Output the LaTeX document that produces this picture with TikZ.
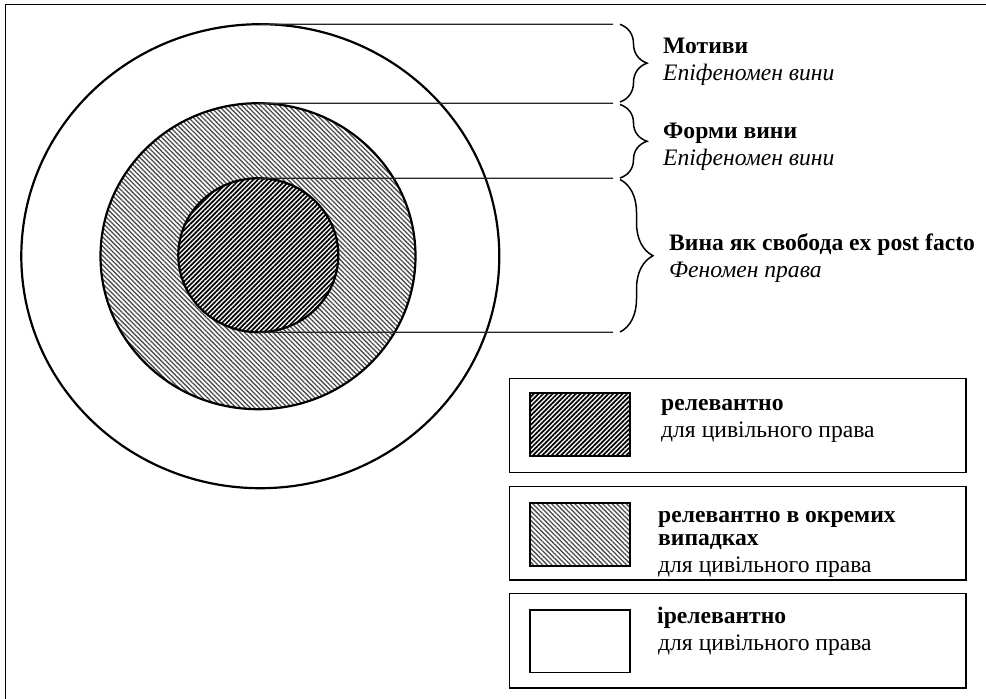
\documentclass[tikz,border=0pt]{standalone}
\usepackage{fontspec}
\setmainfont{Liberation Serif}
\usetikzlibrary{shapes.geometric,patterns.meta,decorations.pathreplacing}
\begin{document}
\begin{tikzpicture}[x=1pt,y=-1pt,
  ring/.style={ellipse, draw, line width=2.2pt, inner sep=0pt, outer sep=0pt},
  darkhatch/.style={pattern={Lines[angle=45, distance=3.3pt, line width=1.7pt]}},
  lighthatch/.style={pattern={Lines[angle=-45, distance=3.3pt, line width=1.3pt]}, pattern color=black!70},
  guide/.style={line width=1.3pt, draw=black!85},
  bracestyle/.style={decorate, line width=1.5pt},
  txt/.style={inner sep=0pt, anchor=base west, font=\fontsize{23.6}{28}\selectfont},
  legbox/.style={rectangle, draw, line width=1.6pt, inner sep=0pt},
  swatch/.style={rectangle, draw, line width=1.6pt, inner sep=0pt, minimum width=100pt, minimum height=63pt}
]
\useasboundingbox (0,0) rectangle (986,699);
\draw[line width=1.4pt] (5.5,699) -- (5.5,4.5) -- (986,4.5);

% circles
\node[ring, minimum width=478pt, minimum height=464pt] (outer) at (260.3,256.2) {};
\node[ring, minimum width=315pt, minimum height=306pt, lighthatch] (middle) at (258,256.2) {};
\node[ring, minimum width=160pt, minimum height=154pt, preaction={fill=white}, darkhatch] (inner) at (258.3,255.2) {};

% guide lines
\coordinate (g1) at (613,24.3);
\coordinate (g2) at (613,103.3);
\coordinate (g3) at (613,178.3);
\coordinate (g4) at (613,332.3);
\draw[guide] (outer.north) -- (g1);
\draw[guide] (middle.north) -- (g2);
\draw[guide] (inner.north) -- (g3);
\draw[guide] (inner.south) -- (g4);

% braces
\coordinate (b1t) at (620,24.3);
\coordinate (b1b) at (620,102);
\coordinate (b2t) at (620,104.5);
\coordinate (b2b) at (620,178);
\coordinate (b3t) at (620,179.5);
\coordinate (b3b) at (620,332);
\draw[bracestyle, decoration={brace, amplitude=27pt}] (b1t) -- (b1b);
\draw[bracestyle, decoration={brace, amplitude=27pt}] (b2t) -- (b2b);
\draw[bracestyle, decoration={brace, amplitude=33pt}] (b3t) -- (b3b);

% labels
\node[txt] (t1a) at (663,53) {\bfseries Мотиви};
\node[txt] (t1b) at (663,80) {\itshape Епіфеномен вини};
\node[txt] (t2a) at (663,138) {\bfseries Форми вини};
\node[txt] (t2b) at (663,165) {\itshape Епіфеномен вини};
\node[txt] (t3a) at (669,250) {\bfseries Вина як свобода ex post facto};
\node[txt] (t3b) at (669,277) {\itshape Феномен права};

% legend
\node[legbox, minimum width=456.5pt, minimum height=94pt] (box1) at (737.75,425.5) {};
\node[legbox, minimum width=456.5pt, minimum height=93.3pt] (box2) at (737.75,533.3) {};
\node[legbox, minimum width=456.5pt, minimum height=94.4pt] (box3) at (737.75,640.5) {};

\node[swatch, darkhatch] (sw1) at (580,424.7) {};
\node[swatch, lighthatch] (sw2) at (580,534.7) {};
\node[swatch, minimum height=62.3pt] (sw3) at (580,641.2) {};

\node[txt] (l1a) at (661,410) {\bfseries релевантно};
\node[txt] (l1b) at (661,437) {для цивільного права};
\node[txt] (l2a) at (658,522.8) {\bfseries релевантно в окремих};
\node[txt] (l2b) at (658,545) {\bfseries випадках};
\begin{scope}
\clip (box2.north west) rectangle (966,577);
\node[txt] (l2c) at (658,572) {для цивільного права};
\end{scope}
\node[txt] (l3a) at (657,623) {\bfseries ірелевантно};
\node[txt] (l3b) at (658,650) {для цивільного права};
\end{tikzpicture}
\end{document}
